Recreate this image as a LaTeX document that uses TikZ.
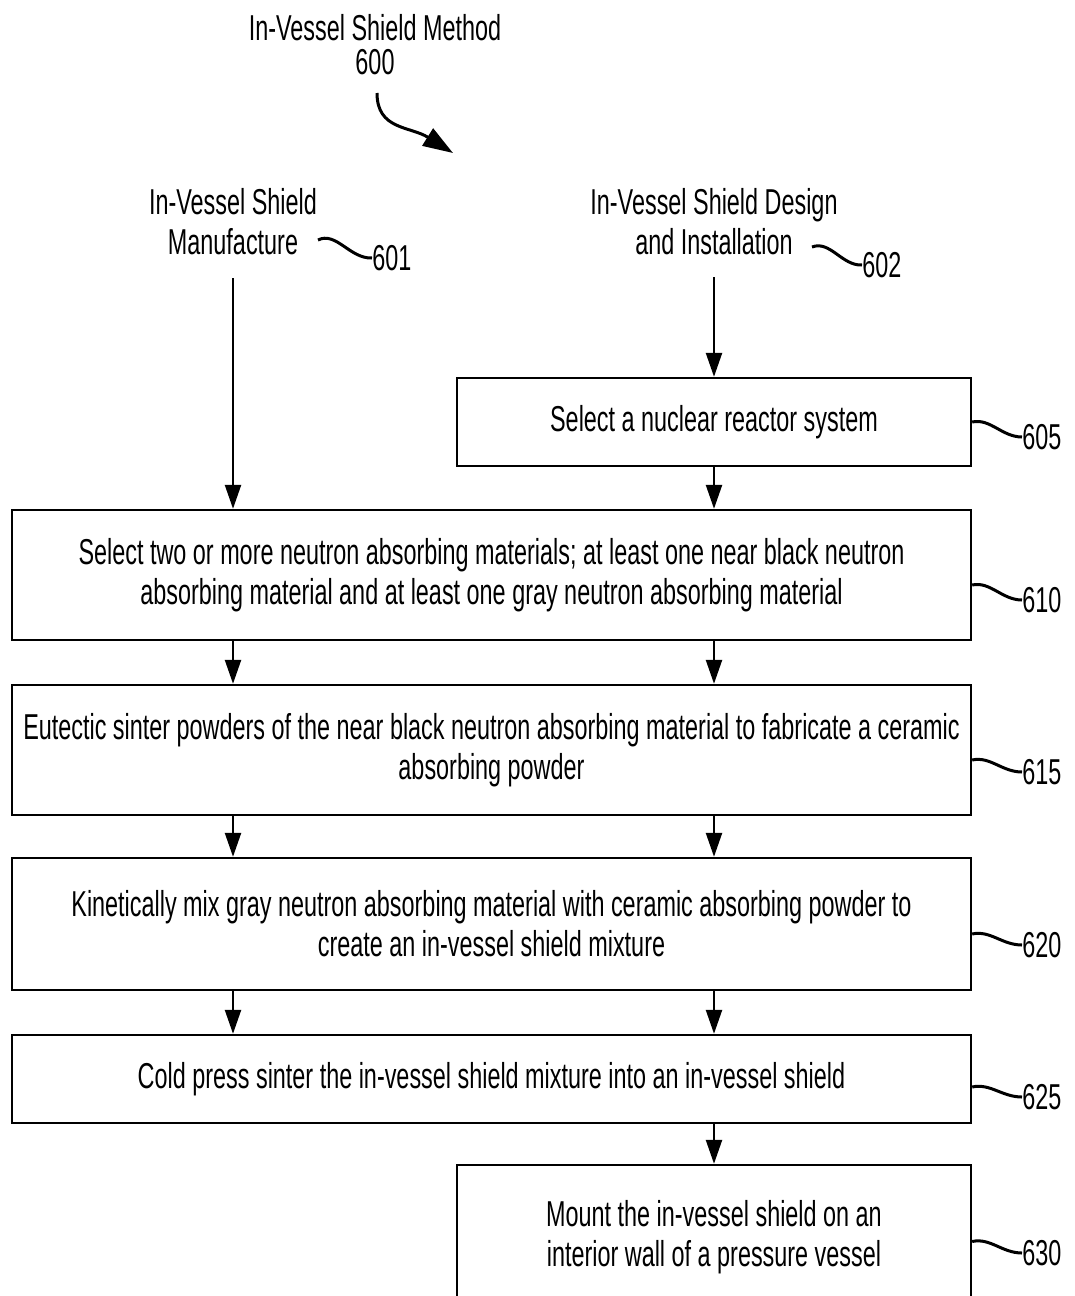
\documentclass[tikz,border=0pt]{standalone}
\usepackage{fontspec}
\setmainfont{Liberation Sans}[FakeStretch=0.65]
\usetikzlibrary{arrows.meta}
\newcommand\diafont{\fontsize{18}{20}\selectfont}
\begin{document}
\begin{tikzpicture}[x=0.5pt,y=-0.5pt,
  box/.style={draw, line width=1.2pt, inner sep=0pt, align=center, font=\diafont},
  wide/.style={box, minimum width=479.5pt},
  half/.style={box, minimum width=257pt},
  lbl/.style={inner sep=0pt, font=\diafont},
  hdr/.style={inner sep=0pt, align=center, font=\diafont},
  arr/.style={line width=1.2pt, -{Triangle[length=12pt,width=8pt]}},
  lead/.style={line width=1.5pt}
]
\useasboundingbox (0,0) rectangle (1075,1296);
\clip (0,0) rectangle (1075,1296);
\coordinate (L) at (233,0);
\coordinate (R) at (714,0);

% title
\node[hdr, font=\fontsize{18}{17}\selectfont] (t600) at (375,45) {In-Vessel Shield Method\\600};
\coordinate (ta) at (377,93);
\coordinate (tb) at (453,153);
\draw[line width=1.5pt, -{Triangle[length=15pt,width=10pt]}] (ta) .. controls (377,130) and (410,126) .. (tb);

% headers
\node[hdr] (h601) at (233,222) {In-Vessel Shield\\Manufacture};
\node[lbl, anchor=west] (l601) at (372,258) {601};
\draw[lead] (318,240) .. controls (336,231) and (350,259) .. (l601.west);
\node[hdr] (h602) at (714,222) {In-Vessel Shield Design\\and Installation};
\node[lbl, anchor=west] (l602) at (862,265) {602};
\draw[lead] (812,247) .. controls (830,240) and (842,266) .. (l602.west);

% boxes
\node[half, minimum height=44pt] (b605) at (714,422) {Select a nuclear reactor system};
\node[wide, minimum height=65pt] (b610) at (491.5,575) {Select two or more neutron absorbing materials; at least one near black neutron\\absorbing material and at least one gray neutron absorbing material};
\node[wide, minimum height=65pt] (b615) at (491.5,750) {Eutectic sinter powders of the near black neutron absorbing material to fabricate a ceramic\\absorbing powder};
\node[wide, minimum height=66pt] (b620) at (491.5,924) {Kinetically mix gray neutron absorbing material with ceramic absorbing powder to\\create an in-vessel shield mixture};
\node[wide, minimum height=44pt] (b625) at (491.5,1079) {Cold press sinter the in-vessel shield mixture into an in-vessel shield};
\node[half, minimum height=72.5pt] (b630) at (714,1237.5) {Mount the in-vessel shield on an\\interior wall of a pressure vessel};

% reference labels
\foreach \n/\y in {605/437, 610/600, 615/772, 620/945, 625/1097, 630/1253}{
  \node[lbl, anchor=west] (l\n) at (1022,\y) {\n};
}
\draw[lead] (b605.east) .. controls +(18,-4) and +(-20,0) .. (l605.west);
\draw[lead] ([yshift=-5pt]b610.east) .. controls +(18,-4) and +(-20,0) .. (l610.west);
\draw[lead] ([yshift=-5pt]b615.east) .. controls +(18,-4) and +(-20,0) .. (l615.west);
\draw[lead] ([yshift=-5pt]b620.east) .. controls +(18,-4) and +(-20,0) .. (l620.west);
\draw[lead] ([yshift=-4pt]b625.east) .. controls +(18,-4) and +(-20,0) .. (l625.west);
\draw[lead] ([yshift=-2pt]b630.east) .. controls +(18,-4) and +(-20,0) .. (l630.west);

% arrows
\draw[arr] (h601.south |- 0,278) -- (b610.north -| L);
\draw[arr] (h602.south |- 0,277) -- (b605.north);
\draw[arr] (b605.south) -- (b610.north -| R);
\foreach \a/\b in {b610/b615, b615/b620, b620/b625}{
  \draw[arr] (\a.south -| L) -- (\b.north -| L);
  \draw[arr] (\a.south -| R) -- (\b.north -| R);
}
\draw[arr] (b625.south -| R) -- (b630.north);
\end{tikzpicture}
\end{document}
